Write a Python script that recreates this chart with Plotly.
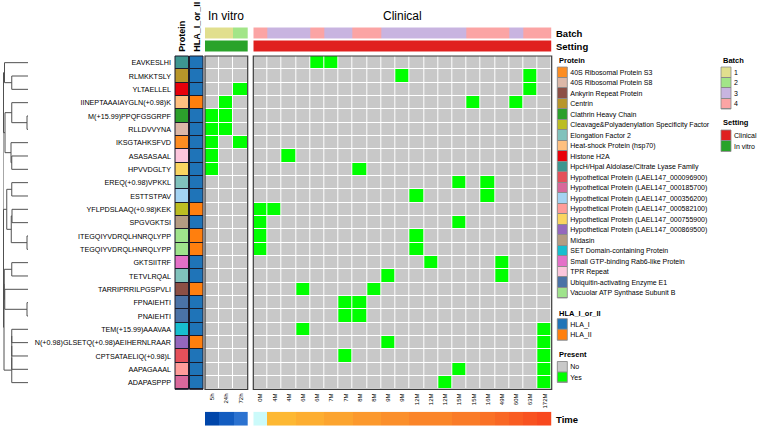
import plotly.graph_objects as go

W, H = 758, 428
FONT = "Liberation Sans, Arial, sans-serif"

# ---------------- data ----------------
peptides = ["EAVKESLHI", "RLMKKTSLY", "YLTAELLEL", "IINEPTAAAIAYGLN(+0.98)K",
            "M(+15.99)PPQFGSGRPF", "RLLDVVYNA", "IKSGTAHKSFVD", "ASASASAAL",
            "HPVVDGLTY", "EREQ(+0.98)VPKKL", "ESTTSTPAV", "YFLPDSLAAQ(+0.98)KEK",
            "SPGVGKTSI", "ITEGQIYVDRQLHNRQLYPP", "TEGQIYVDRQLHNRQLYPP", "GKTSIITRF",
            "TETVLRQAL", "TARRIPRRILPGSPVLI", "FPNAIEHTI", "PNAIEHTI",
            "TEM(+15.99)AAAVAA", "N(+0.98)GLSETQ(+0.98)AEIHERNLRAAR",
            "CPTSATAELIQ(+0.98)L", "AAPAGAAAL", "ADAPASPPP"]

protein_levels = ["40S Ribosomal Protein S3", "40S Ribosomal Protein S8", "Ankyrin Repeat Protein",
                  "Centrin", "Clathrin Heavy Chain", "Cleavage&Polyadenylation Specificity Factor",
                  "Elongation Factor 2", "Heat-shock Protein (hsp70)", "Histone H2A",
                  "HpcH/HpaI Aldolase/Citrate Lyase Family",
                  "Hypothetical Protein (LAEL147_000096900)", "Hypothetical Protein (LAEL147_000185700)",
                  "Hypothetical Protein (LAEL147_000356200)", "Hypothetical Protein (LAEL147_000582100)",
                  "Hypothetical Protein (LAEL147_000755900)", "Hypothetical Protein (LAEL147_000869500)",
                  "Midasin", "SET Domain-containing Protein", "Small GTP-binding Rab6-like Protein",
                  "TPR Repeat", "Ubiquitin-activating Enzyme E1", "Vacuolar ATP Synthase Subunit B"]
protein_colors = ["#fd8d22", "#dcb8a8", "#8c4f45", "#b8962a", "#2ca02c", "#bcbd22",
                  "#80c2bc", "#ffc080", "#e8000b", "#3d9690", "#e5505a", "#d8689b",
                  "#a4d3f2", "#ff9c99", "#fad560", "#9467bd", "#b49c82", "#17becf",
                  "#e470c8", "#fcc6dc", "#4a72a6", "#9fe38c"]

row_protein = ["HpcH/HpaI Aldolase/Citrate Lyase Family", "Centrin", "Histone H2A",
               "Heat-shock Protein (hsp70)", "Clathrin Heavy Chain", "40S Ribosomal Protein S8",
               "40S Ribosomal Protein S3", "TPR Repeat", "Hypothetical Protein (LAEL147_000755900)",
               "Elongation Factor 2", "Hypothetical Protein (LAEL147_000356200)",
               "Cleavage&Polyadenylation Specificity Factor", "Midasin",
               "Vacuolar ATP Synthase Subunit B", "Vacuolar ATP Synthase Subunit B",
               "Small GTP-binding Rab6-like Protein", "Elongation Factor 2", "Ankyrin Repeat Protein",
               "Ubiquitin-activating Enzyme E1", "Ubiquitin-activating Enzyme E1",
               "SET Domain-containing Protein", "Hypothetical Protein (LAEL147_000869500)",
               "Hypothetical Protein (LAEL147_000096900)", "Hypothetical Protein (LAEL147_000582100)",
               "Hypothetical Protein (LAEL147_000185700)"]

hla_levels = ["HLA_I", "HLA_II"]
hla_colors = ["#1f74b8", "#ff7f0e"]
row_hla = ["HLA_I", "HLA_I", "HLA_I", "HLA_II", "HLA_I", "HLA_I", "HLA_I", "HLA_I", "HLA_I",
           "HLA_I", "HLA_I", "HLA_II", "HLA_I", "HLA_II", "HLA_II", "HLA_I", "HLA_I", "HLA_II",
           "HLA_I", "HLA_I", "HLA_I", "HLA_II", "HLA_I", "HLA_I", "HLA_I"]

invitro_cols = ["5h", "24h", "72h"]
clinical_cols = ["0M", "4M", "4M", "6M", "6M", "7M", "7M", "8M", "8M", "9M", "9M", "12M", "12M",
                 "12M", "15M", "15M", "16M", "49M", "60M", "63M", "172M"]

batch_levels = ["1", "2", "3", "4"]
batch_colors = ["#e1df8e", "#a2e588", "#c8b4e0", "#fba4a4"]
invitro_batch = ["1", "1", "2"]
clinical_batch = ["4", "3", "3", "3", "4", "3", "3", "4", "4", "3", "3", "3", "3", "3", "3",
                  "4", "4", "4", "3", "4", "4"]

setting_levels = ["Clinical", "In vitro"]
setting_colors = ["#e0201f", "#29a32a"]

present_levels = ["No", "Yes"]
present_colors = ["#c8c8c8", "#00ff00"]

# column indices (per peptide row) where the peptide is present
invitro_present = [[], [], [2], [1], [0, 1], [0, 1], [0, 2], [0], [0], [], [], [], [], [], [],
                   [], [], [], [], [], [], [], [], [], []]
clinical_present = [[4, 5], [10, 19], [19], [15, 18], [], [], [], [2], [7], [14, 16], [11, 16],
                    [0, 1], [0, 14], [0, 11], [0, 11], [12, 17], [9, 17], [3, 8], [6, 7], [6, 7],
                    [3, 20], [9, 20], [6, 20], [14, 20], [13, 20]]

invitro_time_colors = ["#0046aa", "#125cc0", "#2b72d0"]
time_zero_color = "#cbfafa"
time_low_color = (253, 184, 51)
time_high_color = (248, 72, 30)

# dendrogram merges: (node a, node b, height); leaves are 0..24, merges numbered from 25
dendro_merges = [(1, 2, 6.5), (0, 25, 9.4), (4, 5, 0.4), (3, 27, 6.5), (7, 8, 6.5),
                 (6, 29, 6.8), (28, 30, 9.2), (9, 10, 6.5), (13, 14, 0.4), (11, 12, 6.4),
                 (34, 33, 6.7), (32, 35, 8.5), (15, 16, 6.5), (18, 19, 0.4), (17, 38, 9.3),
                 (37, 39, 9.5), (20, 21, 6.5), (41, 22, 6.5), (42, 23, 6.5), (43, 24, 6.5),
                 (40, 44, 9.6), (26, 31, 9.8), (36, 45, 9.8), (46, 47, 10.0)]

# ---------------- helpers ----------------
def xd(a, b):
    return [a / W, b / W]

def yd(top, bot):
    return [1 - bot / H, 1 - top / H]

def dscale(colors):
    n = len(colors)
    cs = []
    for i, c in enumerate(colors):
        cs.append([i / n, c])
        cs.append([(i + 1) / n, c])
    return cs

nrow = len(peptides)

# time colours by rank of month value
def months(lbl):
    return float(lbl.rstrip("M"))
distinct = sorted(set(months(c) for c in clinical_cols if months(c) > 0))
clinical_time_colors = []
for c in clinical_cols:
    m = months(c)
    if m == 0:
        clinical_time_colors.append(time_zero_color)
    else:
        t = distinct.index(m) / (len(distinct) - 1)
        rgb = [round(time_low_color[k] + (time_high_color[k] - time_low_color[k]) * t) for k in range(3)]
        clinical_time_colors.append("rgb(%d,%d,%d)" % tuple(rgb))

# ---------------- layout geometry (px) ----------------
ROW_TOP, ROW_BOT = 56, 389.3
IV_X = (205, 247.7)
CL_X = (253.3, 551.7)
PROT_X = (175, 188.5)
HLA_X = (189.5, 203)
DEN_X = (3, 28)
TOP_Y = (26.5, 52.7)
TIME_Y = (411.7, 425.7)
LEG_X = (557.3, 567.3)
LEG2_X = (721, 731)

fig = go.Figure()

# dendrogram
node_y = {i: float(i) for i in range(nrow)}
node_h = {i: 0.0 for i in range(nrow)}
dx, dy = [], []
for k, (a, b, h) in enumerate(dendro_merges):
    nid = nrow + k
    dx += [node_h[a], h, h, node_h[b], None]
    dy += [node_y[a], node_y[a], node_y[b], node_y[b], None]
    node_y[nid] = (node_y[a] + node_y[b]) / 2
    node_h[nid] = h
fig.add_trace(go.Scatter(x=dx, y=dy, mode="lines", line=dict(color="#505050", width=1),
                         xaxis="x", yaxis="y", hoverinfo="skip", showlegend=False))

# row annotations
fig.add_trace(go.Heatmap(z=[[protein_levels.index(p)] for p in row_protein], x=[0], y=list(range(nrow)),
                         colorscale=dscale(protein_colors), zmin=-0.5, zmax=len(protein_colors) - 0.5,
                         showscale=False, ygap=1, xaxis="x2", yaxis="y"))
fig.add_trace(go.Heatmap(z=[[hla_levels.index(p)] for p in row_hla], x=[0], y=list(range(nrow)),
                         colorscale=dscale(hla_colors), zmin=-0.5, zmax=1.5,
                         showscale=False, ygap=1, xaxis="x3", yaxis="y"))

# main heatmaps
pres_cs = dscale(present_colors)
z_iv = [[1 if j in invitro_present[i] else 0 for j in range(len(invitro_cols))] for i in range(nrow)]
z_cl = [[1 if j in clinical_present[i] else 0 for j in range(len(clinical_cols))] for i in range(nrow)]
fig.add_trace(go.Heatmap(z=z_iv, x=list(range(len(invitro_cols))), y=list(range(nrow)),
                         colorscale=pres_cs, zmin=-0.5, zmax=1.5, showscale=False,
                         xgap=1, ygap=1, xaxis="x4", yaxis="y"))
fig.add_trace(go.Heatmap(z=z_cl, x=list(range(len(clinical_cols))), y=list(range(nrow)),
                         colorscale=pres_cs, zmin=-0.5, zmax=1.5, showscale=False,
                         xgap=1, ygap=1, xaxis="x5", yaxis="y"))

# top annotations (Batch, Setting)
top_colors = batch_colors + setting_colors
def top_z(batches, setting):
    return [[batch_levels.index(b) for b in batches],
            [len(batch_levels) + setting_levels.index(setting)] * len(batches)]
fig.add_trace(go.Heatmap(z=top_z(invitro_batch, "In vitro"), x=list(range(len(invitro_cols))), y=[0, 1],
                         colorscale=dscale(top_colors), zmin=-0.5, zmax=len(top_colors) - 0.5,
                         showscale=False, ygap=2, xaxis="x4", yaxis="y2"))
fig.add_trace(go.Heatmap(z=top_z(clinical_batch, "Clinical"), x=list(range(len(clinical_cols))), y=[0, 1],
                         colorscale=dscale(top_colors), zmin=-0.5, zmax=len(top_colors) - 0.5,
                         showscale=False, ygap=2, xaxis="x5", yaxis="y2"))

# time bars
fig.add_trace(go.Heatmap(z=[list(range(len(invitro_cols)))], x=list(range(len(invitro_cols))), y=[0],
                         colorscale=dscale(invitro_time_colors), zmin=-0.5, zmax=len(invitro_cols) - 0.5,
                         showscale=False, xaxis="x4", yaxis="y3"))
fig.add_trace(go.Heatmap(z=[list(range(len(clinical_cols)))], x=list(range(len(clinical_cols))), y=[0],
                         colorscale=dscale(clinical_time_colors), zmin=-0.5, zmax=len(clinical_cols) - 0.5,
                         showscale=False, xaxis="x5", yaxis="y3"))

# legend swatches
def leg(levels, colors, xa, ya):
    fig.add_trace(go.Heatmap(z=[[i] for i in range(len(levels))], x=[0], y=list(range(len(levels))),
                             colorscale=dscale(colors), zmin=-0.5, zmax=len(colors) - 0.5,
                             showscale=False, ygap=1, xaxis=xa, yaxis=ya, hoverinfo="skip"))
leg(protein_levels, protein_colors, "x6", "y4")
leg(hla_levels, hla_colors, "x6", "y5")
leg(present_levels, present_colors, "x6", "y6")
leg(batch_levels, batch_colors, "x7", "y7")
leg(setting_levels, setting_colors, "x7", "y8")

# ---------------- axes ----------------
base = dict(showgrid=False, zeroline=False, showticklabels=False, ticks="", fixedrange=True, showline=False)

def ax(**kw):
    d = dict(base)
    d.update(kw)
    return d

rowf = dict(family=FONT, size=7.2, color="#000")
tickf = dict(family=FONT, size=7, color="#000")
layout_axes = dict(
    xaxis=ax(domain=xd(*DEN_X), range=[10, 0], anchor="y"),
    xaxis2=ax(domain=xd(*PROT_X), range=[-0.5, 0.5], anchor="y"),
    xaxis3=ax(domain=xd(*HLA_X), range=[-0.5, 0.5], anchor="y"),
    xaxis4=ax(domain=xd(*IV_X), range=[-0.5, len(invitro_cols) - 0.5], anchor="y",
              showticklabels=True, tickvals=list(range(len(invitro_cols))), ticktext=invitro_cols,
              tickangle=-90, ticklabelstandoff=2, tickfont=dict(family=FONT, size=6, color="#000")),
    xaxis5=ax(domain=xd(*CL_X), range=[-0.5, len(clinical_cols) - 0.5], anchor="y",
              showticklabels=True, tickvals=list(range(len(clinical_cols))), ticktext=clinical_cols,
              tickangle=-90, ticklabelstandoff=2, tickfont=dict(family=FONT, size=6, color="#000")),
    xaxis6=ax(domain=xd(*LEG_X), range=[-0.5, 0.5], anchor="y4"),
    xaxis7=ax(domain=xd(*LEG2_X), range=[-0.5, 0.5], anchor="y7"),
    yaxis=ax(domain=yd(ROW_TOP, ROW_BOT), range=[nrow - 0.5, -0.5], anchor="x2",
             showticklabels=True, tickvals=list(range(nrow)), ticktext=peptides, tickfont=rowf,
             ticklabelstandoff=3),
    yaxis2=ax(domain=yd(*TOP_Y), range=[1.5, -0.5], anchor="x4"),
    yaxis3=ax(domain=yd(*TIME_Y), range=[0.5, -0.5], anchor="x4"),
    yaxis4=ax(domain=yd(67, 298), range=[len(protein_levels) - 0.5, -0.5], anchor="x6", side="right",
              showticklabels=True, tickvals=list(range(len(protein_levels))), ticktext=protein_levels,
              tickfont=tickf, ticklabelstandoff=2),
    yaxis5=ax(domain=yd(318.7, 340.3), range=[1.5, -0.5], anchor="x6", side="right",
              showticklabels=True, tickvals=[0, 1], ticktext=hla_levels, tickfont=tickf, ticklabelstandoff=2),
    yaxis6=ax(domain=yd(361.5, 382.5), range=[1.5, -0.5], anchor="x6", side="right",
              showticklabels=True, tickvals=[0, 1], ticktext=present_levels, tickfont=tickf, ticklabelstandoff=2),
    yaxis7=ax(domain=yd(67, 109), range=[3.5, -0.5], anchor="x7", side="right",
              showticklabels=True, tickvals=list(range(4)), ticktext=batch_levels, tickfont=tickf, ticklabelstandoff=2),
    yaxis8=ax(domain=yd(130, 151.5), range=[1.5, -0.5], anchor="x7", side="right",
              showticklabels=True, tickvals=[0, 1], ticktext=setting_levels, tickfont=tickf, ticklabelstandoff=2),
)

# ---------------- shapes ----------------
shapes = []
def prect(x0, x1, top, bot, fill=None, line=None, lw=1, layer="above"):
    s = dict(type="rect", xref="paper", yref="paper", x0=x0 / W, x1=x1 / W,
             y0=1 - bot / H, y1=1 - top / H, layer=layer,
             line=dict(color=line if line else "rgba(0,0,0,0)", width=lw if line else 0))
    if fill:
        s["fillcolor"] = fill
    shapes.append(s)

for xr in (PROT_X, HLA_X):
    prect(xr[0], xr[1], ROW_TOP, ROW_BOT, fill="#1b1b2a", layer="below")
    prect(xr[0], xr[1], ROW_TOP, ROW_BOT, line="#1b1b2a", lw=1)
for xr in (IV_X, CL_X):
    prect(xr[0], xr[1], ROW_TOP, ROW_BOT, line="#3a3a3a", lw=1.2)
for (xr, top, bot) in ((LEG_X, 67, 298), (LEG_X, 318.7, 340.3), (LEG_X, 361.5, 382.5),
                       (LEG2_X, 67, 109), (LEG2_X, 130, 151.5)):
    prect(xr[0], xr[1], top, bot, fill="#8a8a8a", layer="below")
    prect(xr[0], xr[1], top, bot, line="#8a8a8a", lw=0.8)

# ---------------- text ----------------
ann = []
def text(t, x, y, size, bold=False, xanchor="left", yanchor="middle", angle=0):
    ann.append(dict(text="<b>%s</b>" % t if bold else t, x=x / W, y=1 - y / H, xref="paper", yref="paper",
                    xanchor=xanchor, yanchor=yanchor, showarrow=False, textangle=angle,
                    font=dict(family=FONT, size=size, color="#000")))

text("In vitro", (IV_X[0] + IV_X[1]) / 2, 15.5, 12, xanchor="center")
text("Clinical", (CL_X[0] + CL_X[1]) / 2, 15.5, 12, xanchor="center")
text("Batch", 554, 33, 9.5, bold=True)
text("Setting", 554, 47, 9.5, bold=True)
text("Time", 554, 419, 9.5, bold=True)
text("Protein", (PROT_X[0] + PROT_X[1]) / 2, 53.5, 9, bold=True, xanchor="center", yanchor="bottom", angle=-90)
text("HLA_I_or_II", (HLA_X[0] + HLA_X[1]) / 2, 53.5, 9, bold=True, xanchor="center", yanchor="bottom", angle=-90)
text("Protein", 556.5, 60, 7.5, bold=True)
text("HLA_I_or_II", 556.5, 313, 7.5, bold=True)
text("Present", 556.5, 354, 7.5, bold=True)
text("Batch", 720.5, 60, 7.5, bold=True)
text("Setting", 720.5, 122.5, 7.5, bold=True)

fig.update_layout(width=W, height=H, margin=dict(l=0, r=0, t=0, b=0),
                  paper_bgcolor="white", plot_bgcolor="white", showlegend=False,
                  shapes=shapes, annotations=ann, font=dict(family=FONT), **layout_axes)

fig.write_html("out.html")
